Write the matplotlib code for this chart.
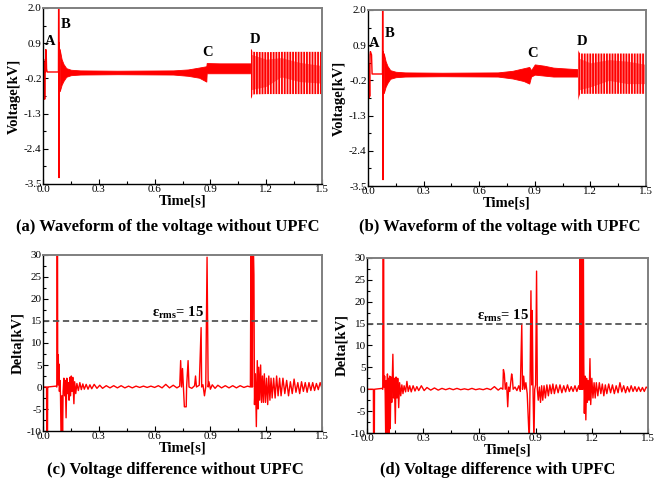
import numpy as np
import matplotlib
matplotlib.use("Agg")
import matplotlib.pyplot as plt

plt.rcParams['font.family'] = ['Liberation Serif', 'DejaVu Serif']
plt.rcParams['mathtext.fontset'] = 'custom'
plt.rcParams['mathtext.rm'] = 'Liberation Serif'
plt.rcParams['mathtext.bf'] = 'Liberation Serif:bold'
plt.rcParams['hatch.linewidth'] = 1.3

RED = '#ff0000'

# ---- voltage waveform (a): transient line, then envelope of the oscillation
a_tr_t = [0.000, 0.003, 0.005, 0.007, 0.009, 0.011, 0.013, 0.015, 0.017, 0.019, 0.022,
          0.027, 0.083, 0.084, 0.085, 0.086, 0.087, 0.088, 0.090]
a_tr_v = [-0.2, 0.4, -0.8, 0.3, -0.85, 0.1, 0.0, 0.7, 0.65, 0.1, 0.0,
          0.0, 0.0, 2.2, 0.9, -3.3, 0.9, -0.5, 0.7]
a_env_t = [0.090, 0.100, 0.110, 0.125, 0.150, 0.200, 0.400, 0.700, 0.780, 0.840, 0.878,
           0.880, 0.950, 1.050, 1.118]
a_env_hi = [0.70, 0.40, 0.25, 0.12, 0.07, 0.05, 0.04, 0.05, 0.08, 0.14, 0.18,
            0.28, 0.27, 0.27, 0.27]
a_env_lo = [-0.60, -0.40, -0.28, -0.15, -0.10, -0.08, -0.07, -0.08, -0.12, -0.18, -0.30,
            -0.04, -0.04, -0.04, -0.04]
a_d_t = [1.118, 1.122, 1.130, 1.200, 1.300, 1.400, 1.500]
a_d_hi = [0.72, 0.70, 0.63, 0.62, 0.63, 0.63, 0.63]
a_d_lo = [-0.84, -0.80, -0.70, -0.69, -0.69, -0.69, -0.69]
a_core_t = [1.120, 1.200, 1.280, 1.380, 1.500]
a_core_hi = [0.55, 0.40, 0.45, 0.30, 0.20]
a_core_lo = [-0.55, -0.45, -0.15, -0.30, -0.35]

# ---- voltage waveform (b)
b_tr_t = [0.000, 0.003, 0.005, 0.007, 0.009, 0.011, 0.013, 0.016, 0.019, 0.022,
          0.078, 0.079, 0.080, 0.081, 0.082, 0.083, 0.085]
b_tr_v = [-0.2, 0.3, -0.75, 0.2, -0.7, 0.6, 0.7, 0.65, 0.6, 0.0,
          0.0, 2.2, 0.8, -3.3, 0.7, -0.5, 0.6]
b_env_t = [0.085, 0.095, 0.105, 0.120, 0.150, 0.200, 0.400, 0.700, 0.780, 0.840, 0.870,
           0.880, 0.900, 0.950, 1.000, 1.050, 1.133]
b_env_hi = [0.65, 0.40, 0.25, 0.12, 0.07, 0.05, 0.04, 0.05, 0.10, 0.18, 0.22,
            0.12, 0.30, 0.26, 0.20, 0.18, 0.15]
b_env_lo = [-0.60, -0.40, -0.28, -0.15, -0.10, -0.08, -0.07, -0.08, -0.14, -0.22, -0.30,
            -0.08, -0.02, -0.05, -0.08, -0.08, -0.08]
b_d_t = [1.133, 1.137, 1.145, 1.250, 1.400, 1.500]
b_d_hi = [0.75, 0.70, 0.64, 0.64, 0.64, 0.64]
b_d_lo = [-0.83, -0.75, -0.62, -0.62, -0.62, -0.62]
b_core_t = [1.135, 1.200, 1.300, 1.400, 1.500]
b_core_hi = [0.50, 0.35, 0.45, 0.40, 0.30]
b_core_lo = [-0.50, -0.40, -0.20, -0.30, -0.30]

# ---- voltage difference (c), (t, delta kV)
delta_c = [
    (0.000, 0.0), (0.019, 0.0), (0.020, -12), (0.024, -12), (0.025, 0.0), (0.070, 0.2),
    (0.074, 0.0), (0.075, 32), (0.078, 32), (0.079, 0.5), (0.082, 7.3), (0.084, 0.5),
    (0.086, 5.2), (0.088, -1.0), (0.091, 1.5), (0.094, -2.0), (0.097, -12), (0.100, -12),
    (0.102, -2.0), (0.105, -12), (0.108, -1.0), (0.112, 2.0), (0.116, -2.0), (0.120, 1.5),
    (0.124, -7.0), (0.128, 2.0), (0.132, -1.5), (0.136, 1.0), (0.140, -3.0), (0.144, 2.2),
    (0.148, -2.0), (0.152, 2.5), (0.156, -1.0), (0.160, 2.2), (0.166, -3.8), (0.170, 1.2),
    (0.176, -1.5), (0.182, 0.8), (0.190, -0.8), (0.198, 1.0), (0.206, -0.6), (0.214, 0.7),
    (0.222, -0.5), (0.232, 0.6), (0.242, -0.5), (0.252, 0.5), (0.262, -0.4), (0.275, 0.6),
    (0.290, -0.3), (0.305, 0.4), (0.320, -0.3), (0.340, 0.3), (0.360, -0.2), (0.380, 0.3),
    (0.400, -0.2), (0.420, 0.3), (0.440, -0.2), (0.460, 0.2), (0.480, -0.2), (0.500, 0.2),
    (0.520, -0.1), (0.540, 0.2), (0.560, -0.1), (0.580, 0.2), (0.600, -0.1), (0.620, 0.3),
    (0.640, -0.2), (0.660, 0.6), (0.680, -0.2), (0.700, 0.4), (0.720, -0.2), (0.735, 0.2),
    (0.740, 6.0), (0.745, 0.0), (0.750, 4.2), (0.755, 0.0), (0.760, -4.5), (0.770, -4.5),
    (0.772, 0.0), (0.780, 6.0), (0.785, 0.0), (0.800, -0.3), (0.815, 0.3), (0.820, 2.5),
    (0.825, 0.0), (0.840, 0.4), (0.850, 13.5), (0.853, 0.0), (0.860, 0.5), (0.868, -2.0),
    (0.875, 0.0), (0.882, 29.5), (0.888, 0.0), (0.892, 1.2), (0.900, -0.5), (0.910, 0.5),
    (0.925, -0.3), (0.940, 0.4), (0.960, -0.2), (0.980, 0.3), (1.000, -0.2), (1.020, 0.3),
    (1.040, -0.2), (1.060, 0.3), (1.080, -0.1), (1.100, 0.2), (1.115, 0.0), (1.118, 32),
    (1.121, 0.0), (1.123, 32), (1.126, 0.0), (1.128, 32), (1.131, 32), (1.134, 25.5),
    (1.137, -4.0), (1.142, 3.0), (1.147, -9.0), (1.152, 6.0), (1.156, -5.0), (1.160, 4.5),
    (1.165, -3.0), (1.170, 5.0), (1.175, -3.5), (1.180, 2.5), (1.185, -3.5), (1.190, 3.0),
    (1.196, -3.5), (1.202, 2.0), (1.208, -4.0), (1.214, 2.5), (1.220, -3.0), (1.226, 2.0),
    (1.232, -2.5), (1.240, 2.0), (1.248, -2.5), (1.256, 2.5), (1.264, -2.0), (1.272, 2.0),
    (1.280, -2.0), (1.290, 2.0), (1.300, -1.5), (1.310, 1.5), (1.320, -2.0), (1.330, 1.2),
    (1.340, -1.5), (1.350, 1.8), (1.360, -1.2), (1.370, 1.0), (1.380, -1.5), (1.390, 1.2),
    (1.400, -1.0), (1.410, 1.0), (1.420, -1.2), (1.430, 1.0), (1.440, -0.8), (1.450, 1.0),
    (1.460, -0.8), (1.470, 0.8), (1.480, -0.6), (1.490, 1.0), (1.500, -0.3),
]

# ---- voltage difference (d)
delta_d = [
    (0.000, 0.0), (0.034, 0.0), (0.035, -12), (0.039, -12), (0.040, 0.0), (0.080, 0.2),
    (0.084, 0.0), (0.085, 32), (0.089, 32), (0.090, 0.5), (0.094, 3.0), (0.097, -1.0),
    (0.100, -12), (0.103, 2.0), (0.106, -12), (0.109, 3.5), (0.112, -12), (0.115, 2.5),
    (0.118, -12), (0.121, 3.0), (0.124, -9.0), (0.128, 2.8), (0.132, -3.0), (0.138, 8.0),
    (0.142, -2.0), (0.146, 2.5), (0.151, -7.8), (0.155, 2.8), (0.160, -2.0), (0.164, 2.5),
    (0.169, -4.2), (0.174, 1.5), (0.180, -1.5), (0.186, 1.0), (0.192, -1.0), (0.198, 0.8),
    (0.206, -0.6), (0.213, 1.8), (0.220, -0.5), (0.228, 0.8), (0.236, -0.6), (0.246, 0.8),
    (0.256, -0.4), (0.266, 0.6), (0.276, -0.3), (0.290, 0.8), (0.305, -0.3), (0.320, 0.4),
    (0.340, -0.2), (0.360, 0.3), (0.380, -0.2), (0.400, 0.2), (0.420, -0.1), (0.440, 0.2),
    (0.460, -0.1), (0.480, 0.2), (0.500, -0.1), (0.520, 0.1), (0.540, -0.1), (0.560, 0.2),
    (0.580, -0.1), (0.600, 0.1), (0.620, -0.1), (0.640, 0.2), (0.660, -0.1), (0.680, 0.6),
    (0.700, -0.2), (0.715, 0.3), (0.725, 0.0), (0.728, 4.5), (0.733, 3.5), (0.738, 0.0),
    (0.745, 1.5), (0.751, -4.0), (0.756, 0.5), (0.762, -0.5), (0.772, 3.5), (0.776, 2.5),
    (0.780, 0.0), (0.790, 0.5), (0.800, -0.3), (0.810, 0.8), (0.818, -0.5), (0.826, 15.0),
    (0.830, 0.0), (0.836, 3.0), (0.842, 0.0), (0.848, 1.5), (0.855, -1.0), (0.866, -12),
    (0.870, 0.0), (0.875, 22.5), (0.879, 1.0), (0.882, 18.0), (0.886, 0.0), (0.891, -12),
    (0.895, 0.0), (0.900, 1.0), (0.905, 27.0), (0.909, 0.0), (0.914, -2.5), (0.920, 0.5),
    (0.926, -3.0), (0.932, 0.8), (0.938, -2.5), (0.945, 0.8), (0.952, -2.0), (0.960, 1.0),
    (0.968, -1.5), (0.976, 1.0), (0.984, -1.0), (0.992, 1.2), (1.000, -1.0), (1.010, 1.0),
    (1.020, -0.8), (1.030, 1.0), (1.040, -0.8), (1.050, 0.8), (1.060, -0.6), (1.070, 1.0),
    (1.080, -0.5), (1.090, 0.6), (1.100, -0.5), (1.110, 0.8), (1.120, -0.5), (1.130, 0.8),
    (1.135, 0.0), (1.137, 32), (1.139, 0.0), (1.141, 32), (1.143, 0.0), (1.145, 32),
    (1.147, 0.0), (1.149, 32), (1.151, 0.0), (1.153, 32), (1.155, 32), (1.157, 6.0),
    (1.160, -5.5), (1.164, 3.0), (1.168, -7.0), (1.172, 2.5), (1.176, -3.0), (1.180, 2.0),
    (1.185, -2.5), (1.190, 7.0), (1.194, -3.5), (1.200, 2.5), (1.206, -2.0), (1.212, 1.5),
    (1.218, -2.0), (1.224, 1.5), (1.232, -1.5), (1.240, 1.5), (1.248, -1.0), (1.256, 1.2),
    (1.264, -1.5), (1.272, 1.0), (1.280, -1.0), (1.290, 1.2), (1.300, -0.8), (1.310, 1.0),
    (1.320, -1.0), (1.330, 0.8), (1.340, -0.8), (1.350, 1.5), (1.360, -0.6), (1.370, 0.8),
    (1.380, -0.8), (1.390, 0.6), (1.400, -0.6), (1.410, 0.8), (1.420, -0.5), (1.430, 0.6),
    (1.440, -0.5), (1.450, 0.5), (1.460, -0.5), (1.470, 0.4), (1.480, -0.5), (1.490, 0.5),
    (1.500, 0.2),
]

x_ticks = [0.0, 0.3, 0.6, 0.9, 1.2, 1.5]
v_ticks = [2.0, 0.9, -0.2, -1.3, -2.4, -3.5]
d_ticks = [30, 25, 20, 15, 10, 5, 0, -5, -10]
threshold = 15

a_labels = [('A', 0.011, 0.94), ('B', 0.096, 1.47), ('C', 0.857, 0.62), ('D', 1.109, 1.03)]
b_labels = [('A', 0.002, 0.96), ('B', 0.092, 1.28), ('C', 0.858, 0.64), ('D', 1.128, 1.00)]

titles = ['(a) Waveform of the voltage without UPFC',
          '(b) Waveform of the voltage with UPFC',
          '(c) Voltage difference without UPFC',
          '(d) Voltage difference with UPFC']


def style_axes(ax, yticks, ylim, ylabel, yfmt):
    ax.set_xlim(0, 1.5)
    ax.set_ylim(*ylim)
    ax.set_xticks(x_ticks)
    ax.set_xticklabels(['%.1f' % x for x in x_ticks])
    ax.set_xticks([x + 0.15 for x in x_ticks[:-1]], minor=True)
    ax.set_yticks(yticks)
    ax.set_yticklabels([yfmt % y for y in yticks])
    ys = sorted(yticks)
    ax.set_yticks([(ys[i] + ys[i + 1]) / 2 for i in range(len(ys) - 1)], minor=True)
    ax.tick_params(which='both', direction='in', labelsize=8, pad=1, top=False, right=False)
    ax.tick_params(which='major', length=3.5, width=0.8)
    ax.tick_params(which='minor', length=2, width=0.8)
    for s in ['left', 'bottom']:
        ax.spines[s].set_color('black')
        ax.spines[s].set_linewidth(1.0)
    for s in ['top', 'right']:
        ax.spines[s].set_color('#7f7f7f')
        ax.spines[s].set_linewidth(1.4)
    ax.set_xlabel('Time[s]', fontsize=10.5, fontweight='bold', labelpad=0)
    ax.set_ylabel(ylabel, fontsize=10.5, fontweight='bold', labelpad=2)


def draw_voltage(ax, tr_t, tr_v, env_t, env_hi, env_lo, d_t, d_hi, d_lo, c_t, c_hi, c_lo, labels):
    ax.plot(tr_t, tr_v, color=RED, lw=1.0)
    ax.fill_between(env_t, env_lo, env_hi, color=RED, lw=0.6)
    ax.fill_between(d_t, d_lo, d_hi, facecolor='white', edgecolor=RED, hatch='||||||', lw=0)
    ax.fill_between(c_t, c_lo, c_hi, color=RED, alpha=0.5, lw=0)
    for name, x, y in labels:
        ax.text(x, y, name, fontsize=10.5, fontweight='bold', ha='left', va='center')
    style_axes(ax, v_ticks, (-3.5, 2.0), 'Voltage[kV]', '%.1f')


def draw_delta(ax, pairs, text_x):
    t, v = zip(*pairs)
    ax.plot(t, v, color=RED, lw=1.0)
    ax.axhline(threshold, color='#555555', lw=1.3, ls=(0, (3.5, 2)))
    ax.text(text_x, threshold + 1.8, r'ε$_{\mathbf{rms}}$= 15', fontsize=10.5,
            fontweight='bold', ha='left', va='center')
    style_axes(ax, d_ticks, (-10, 30), 'Delta[kV]', '%d')


fig = plt.figure(figsize=(6.65, 4.9), dpi=100)
ax_a = fig.add_axes([0.0647, 0.6245, 0.4195, 0.3592])
ax_b = fig.add_axes([0.5534, 0.6204, 0.4180, 0.3592])
ax_c = fig.add_axes([0.0647, 0.1204, 0.4195, 0.3592])
ax_d = fig.add_axes([0.5519, 0.1163, 0.4226, 0.3572])

draw_voltage(ax_a, a_tr_t, a_tr_v, a_env_t, a_env_hi, a_env_lo,
             a_d_t, a_d_hi, a_d_lo, a_core_t, a_core_hi, a_core_lo, a_labels)
draw_voltage(ax_b, b_tr_t, b_tr_v, b_env_t, b_env_hi, b_env_lo,
             b_d_t, b_d_hi, b_d_lo, b_core_t, b_core_hi, b_core_lo, b_labels)
draw_delta(ax_c, delta_c, 0.586)
draw_delta(ax_d, delta_d, 0.587)

fig.text(0.253, 0.537, titles[0], fontsize=12, fontweight='bold', ha='center', va='center')
fig.text(0.751, 0.537, titles[1], fontsize=12, fontweight='bold', ha='center', va='center')
fig.text(0.263, 0.041, titles[2], fontsize=12, fontweight='bold', ha='center', va='center')
fig.text(0.749, 0.041, titles[3], fontsize=12, fontweight='bold', ha='center', va='center')

fig.savefig('out.png', dpi=100, facecolor='white')
